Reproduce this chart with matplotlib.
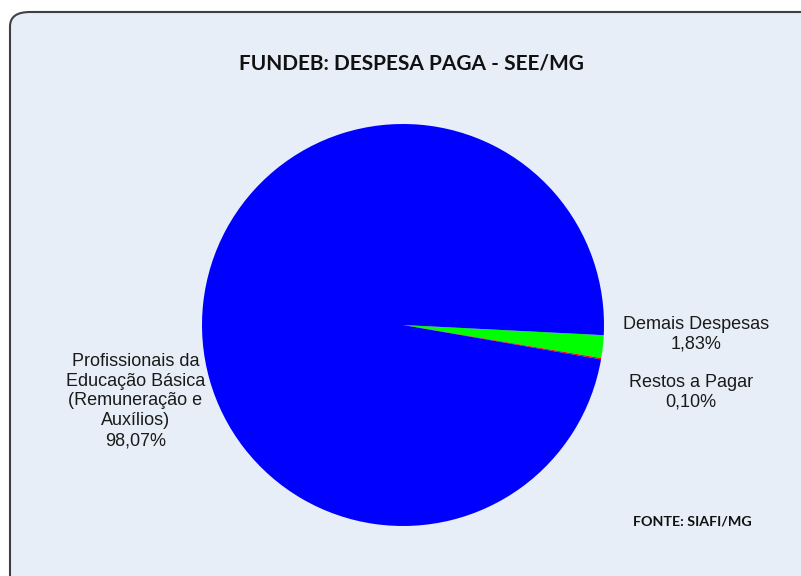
import matplotlib.pyplot as plt
from matplotlib.patches import FancyBboxPatch

# dados
categorias = ['Demais Despesas', 'Restos a Pagar',
              'Profissionais da\nEducação Básica\n(Remuneração e\nAuxílios)']
valores = [1.83, 0.10, 98.07]
cores = ['#00FF00', '#FF0000', '#0000FF']
rotulos = ['1,83%', '0,10%', '98,07%']

W, H = 801, 576
fig = plt.figure(figsize=(W / 100, H / 100), dpi=100)
fig.patch.set_facecolor('white')

# moldura arredondada
moldura = FancyBboxPatch((10 / W, -0.05), 1.1, 1 - 12 / H + 0.05,
                         boxstyle='round,pad=0,rounding_size=0.025',
                         transform=fig.transFigure, facecolor='#E7EEF7',
                         edgecolor='#404040', linewidth=1.5, zorder=-10)
fig.add_artist(moldura)

fig.text(411 / W, 1 - 63 / H, 'FUNDEB: DESPESA PAGA - SEE/MG',
         ha='center', va='center', fontsize=15, fontweight='bold',
         family='Lato', color='#111111')
fig.text(692 / W, 1 - 522 / H, 'FONTE: SIAFI/MG', ha='center', va='center',
         fontsize=10.3, fontweight='bold', family='Lato', color='#111111')

cx, cy, r = 403, 325, 201
ax = fig.add_axes([(cx - r) / W, (H - cy - r) / H, 2 * r / W, 2 * r / H])
ax.set_zorder(5)
ax.set_facecolor('none')
ax.pie(valores, colors=cores, startangle=-2.9, counterclock=False,
       radius=1, wedgeprops=dict(linewidth=0))
ax.set_xlim(-1, 1)
ax.set_ylim(-1, 1)
ax.set_aspect('equal')
ax.axis('off')

fonte = dict(ha='center', va='center', fontsize=13, family='Liberation Sans',
             color='#1a1a1a', linespacing=1.22, clip_on=False)
pos = [(1.458, -0.047), (1.433, -0.336), (-1.331, -0.378)]
for nome, rot, (x, y) in zip(categorias, rotulos, pos):
    ax.text(x, y, nome + '\n' + rot, **fonte)

fig.savefig('out.png', dpi=100)
